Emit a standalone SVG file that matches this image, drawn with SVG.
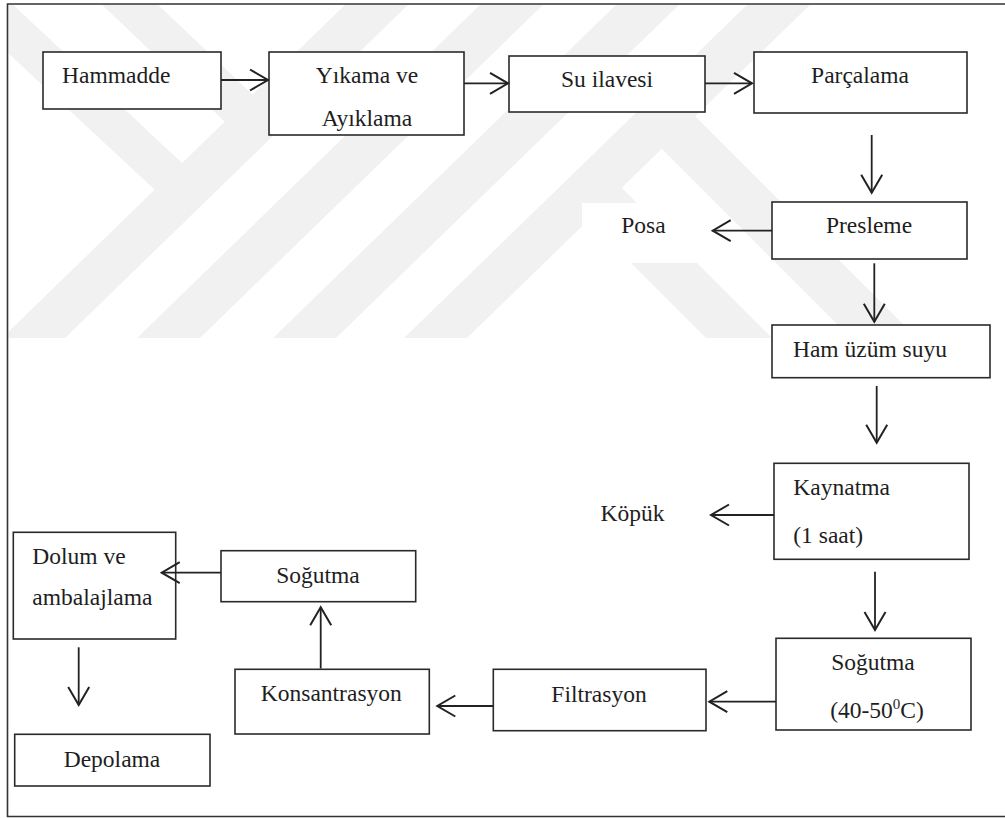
<svg xmlns="http://www.w3.org/2000/svg" width="1005" height="818" viewBox="0 0 1005 818">
<style>
.wm{fill:#f1f1f1}
.box{fill:#ffffff;stroke:#2a2a2a;stroke-width:1.6}
.t{font-size:23.5px;fill:#1e1e1e}
.m{text-anchor:middle}
.c{fill:none;stroke:#222;stroke-width:1.8}
</style>
<defs>
<clipPath id="inner"><rect x="8.5" y="4.5" width="997" height="812"/></clipPath>
<marker id="ah" markerUnits="userSpaceOnUse" markerWidth="24" markerHeight="26" refX="19" refY="12" orient="auto">
<path d="M1,1.5 L19,12 L1,22.5" fill="none" stroke="#222" stroke-width="2"/>
</marker>
</defs>
<rect x="0" y="0" width="1005" height="818" fill="#ffffff"/>
<g id="watermark" clip-path="url(#inner)">
<polygon class="wm" points="350,0 413,0 65,338 2,338"/>
<polygon class="wm" points="485,0 548,0 200,338 137,338"/>
<polygon class="wm" points="621,0 684,0 336,338 273,338"/>
<polygon class="wm" points="752,0 815,0 467,338 404,338"/>
<polygon class="wm" points="97,0 153,0 269,110 241,137"/>
<polygon class="wm" points="-49,0 8,0 198,178 171,205"/>
<polygon class="wm" points="680,101 646,133 851,338 917,338"/>
<polygon class="wm" points="606,172 573,205 706,338 772,338"/>
<rect x="582" y="203" width="130" height="60" fill="#ffffff"/>
</g>
<path id="frame" d="M1010,4 H7.5 V816.5 H1010" fill="none" stroke="#333" stroke-width="1.6"/>
<g id="nodes" font-family="Liberation Serif, Tinos, Times New Roman, serif">
<g id="n-hammadde"><rect class="box" x="43" y="52" width="178" height="57"/><text class="t" x="62" y="83.3">Hammadde</text></g>
<g id="n-yikama"><rect class="box" x="269" y="52" width="195" height="83"/><text class="t m" x="367" y="83.3">Yıkama ve</text><text class="t m" x="367" y="126">Ayıklama</text></g>
<g id="n-su"><rect class="box" x="509" y="56" width="196" height="56"/><text class="t m" x="607" y="86.7">Su ilavesi</text></g>
<g id="n-parcalama"><rect class="box" x="754" y="52" width="213" height="61"/><text class="t m" x="860" y="83.3">Parçalama</text></g>
<g id="n-presleme"><rect class="box" x="772" y="202" width="195" height="57"/><text class="t m" x="869" y="233.3">Presleme</text></g>
<g id="n-posa"><text class="t m" x="643.5" y="233.3">Posa</text></g>
<g id="n-ham"><rect class="box" x="772" y="325" width="218" height="52.7"/><text class="t m" x="870" y="356.7">Ham üzüm suyu</text></g>
<g id="n-kaynatma"><rect class="box" x="774" y="463.3" width="195" height="96"/><text class="t" x="793.3" y="495">Kaynatma</text><text class="t" x="793.3" y="542.7">(1 saat)</text></g>
<g id="n-kopuk"><text class="t m" x="632.5" y="520.7">Köpük</text></g>
<g id="n-sogutma1"><rect class="box" x="776" y="638.3" width="195" height="91.7"/><text class="t m" x="873" y="670">Soğutma</text><text class="t m" x="877" y="717.7">(40-50<tspan dy="-9" font-size="15">0</tspan><tspan dy="9">C)</tspan></text></g>
<g id="n-filtrasyon"><rect class="box" x="493.3" y="669.3" width="212.7" height="61.4"/><text class="t m" x="599" y="701.7">Filtrasyon</text></g>
<g id="n-konsantrasyon"><rect class="box" x="235" y="669.3" width="194.3" height="64.7"/><text class="t m" x="331.3" y="700.7">Konsantrasyon</text></g>
<g id="n-sogutma2"><rect class="box" x="221" y="550.7" width="194.7" height="51"/><text class="t m" x="318" y="582.7">Soğutma</text></g>
<g id="n-dolum"><rect class="box" x="13.3" y="532.3" width="162.4" height="106.7"/><text class="t" x="32.3" y="564">Dolum ve</text><text class="t" x="32.3" y="605">ambalajlama</text></g>
<g id="n-depolama"><rect class="box" x="14.7" y="734.3" width="195.3" height="51.7"/><text class="t m" x="112" y="766.7">Depolama</text></g>
</g>
<g id="connectors">
<line class="c" x1="221" y1="80" x2="268" y2="80" marker-end="url(#ah)"/>
<line class="c" x1="464" y1="83.3" x2="508" y2="83.3" marker-end="url(#ah)"/>
<line class="c" x1="705" y1="83.3" x2="752" y2="83.3" marker-end="url(#ah)"/>
<line class="c" x1="871.7" y1="135" x2="871.7" y2="192.7" marker-end="url(#ah)"/>
<line class="c" x1="772" y1="230.7" x2="712.7" y2="230.7" marker-end="url(#ah)"/>
<line class="c" x1="874.3" y1="263.3" x2="874.3" y2="321.7" marker-end="url(#ah)"/>
<line class="c" x1="876.7" y1="386" x2="876.7" y2="442.7" marker-end="url(#ah)"/>
<line class="c" x1="774" y1="515" x2="711" y2="515" marker-end="url(#ah)"/>
<line class="c" x1="875" y1="571.7" x2="875" y2="630" marker-end="url(#ah)"/>
<line class="c" x1="776" y1="701.7" x2="709.3" y2="701.7" marker-end="url(#ah)"/>
<line class="c" x1="493.3" y1="706" x2="437.3" y2="706" marker-end="url(#ah)"/>
<line class="c" x1="320.7" y1="668.5" x2="320.7" y2="607.3" marker-end="url(#ah)"/>
<line class="c" x1="221" y1="572.7" x2="161.7" y2="572.7" marker-end="url(#ah)"/>
<line class="c" x1="78.7" y1="647.3" x2="78.7" y2="705" marker-end="url(#ah)"/>
</g>
</svg>
